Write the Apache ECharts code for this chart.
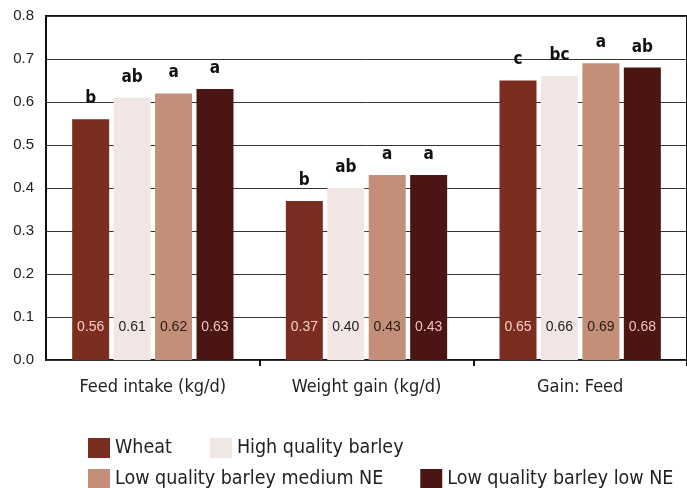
<!DOCTYPE html>
<html>
<head>
<meta charset="utf-8">
<script src="https://cdn.jsdelivr.net/npm/echarts@6/dist/echarts.min.js"></script>
<style>
  html, body { margin: 0; padding: 0; background: #fff; }
  #chart { width: 687px; height: 488px; }
</style>
</head>
<body>
<div id="chart"></div>
<script>
var categories = ['Feed intake (kg/d)', 'Weight gain (kg/d)', 'Gain: Feed'];
var seriesNames = ['Wheat', 'High quality barley', 'Low quality barley medium NE', 'Low quality barley low NE'];
var wheat = [0.56, 0.37, 0.65];
var hqBarley = [0.61, 0.40, 0.66];
var lqMedium = [0.62, 0.43, 0.69];
var lqLow = [0.63, 0.43, 0.68];
var wheatLetters = ['b', 'b', 'c'];
var hqLetters = ['ab', 'ab', 'bc'];
var mediumLetters = ['a', 'a', 'a'];
var lowLetters = ['a', 'a', 'ab'];

var values = [wheat, hqBarley, lqMedium, lqLow];
var letters = [wheatLetters, hqLetters, mediumLetters, lowLetters];
var colors = ['#7b2d1f', '#f1e6e4', '#c48f78', '#4a1513'];
var valueTextColors = ['#f6cfc8', '#222', '#2a1a14', '#f0c4bf'];

var narrow = "'DejaVu Sans Condensed', 'Liberation Sans Narrow', sans-serif";

var chart = echarts.init(document.getElementById('chart'));

var series = [];
values.forEach(function (data, i) {
	// the coloured bars with the significance letters on top
	series.push({
		name: seriesNames[i],
		type: 'bar',
		xAxisIndex: 0,
		data: data,
		barWidth: 37,
		barGap: '12%',
		itemStyle: { color: colors[i] },
		label: {
			show: true,
			position: 'top',
			distance: 12,
			fontFamily: narrow,
			fontWeight: 'bold',
			fontSize: 17,
			color: '#111',
			formatter: function (p) { return letters[i][p.dataIndex]; }
		},
		z: 3
	});
	// same bars again, invisible, only to print the value near the bottom
	series.push({
		name: seriesNames[i] + ' value',
		type: 'bar',
		xAxisIndex: 1,
		data: data,
		barWidth: 37,
		barGap: '12%',
		itemStyle: { color: 'rgba(0,0,0,0)' },
		label: {
			show: true,
			position: 'insideBottom',
			distance: 26,
			fontFamily: 'Liberation Sans, Arial, sans-serif',
			fontSize: 14,
			color: valueTextColors[i],
			formatter: function (p) { return p.value.toFixed(2); }
		},
		z: 4
	});
});

var legendText = { fontFamily: narrow, fontSize: 19.5, color: '#222' };

var option = {
	animation: false,
	backgroundColor: '#fff',
	legend: [{
		data: seriesNames.slice(0, 2),
		left: 83,
		top: 433,
		width: 600,
		itemWidth: 22,
		itemHeight: 20,
		itemGap: 38,
		icon: 'rect',
		textStyle: legendText
	}, {
		data: seriesNames.slice(2, 4),
		left: 83,
		top: 464,
		width: 600,
		itemWidth: 22,
		itemHeight: 20,
		itemGap: 37,
		icon: 'rect',
		textStyle: legendText
	}],
	grid: {
		left: 46,
		top: 16,
		width: 647,
		bottom: 128,
		show: true,
		borderWidth: 2,
		borderColor: '#111'
	},
	xAxis: [{
		type: 'category',
		data: categories,
		axisLine: { show: false },
		axisTick: {
			show: true,
			length: 6,
			lineStyle: { color: '#111', width: 2 },
			interval: function (index) { return index > 0 && index < 3; }
		},
		axisLabel: {
			interval: 0,
			margin: 18,
			fontFamily: narrow,
			fontSize: 18,
			color: '#222'
		}
	}, {
		type: 'category',
		data: categories,
		show: false
	}],
	yAxis: {
		type: 'value',
		min: 0,
		max: 0.8,
		interval: 0.1,
		axisLine: { show: false },
		axisTick: { show: false },
		axisLabel: {
			margin: 12,
			fontFamily: 'Liberation Sans, Arial, sans-serif',
			fontSize: 15,
			color: '#222',
			formatter: function (v) { return v.toFixed(1); }
		},
		splitLine: { lineStyle: { color: '#333', width: 1 } }
	},
	series: series
};

chart.setOption(option);
</script>
</body>
</html>
